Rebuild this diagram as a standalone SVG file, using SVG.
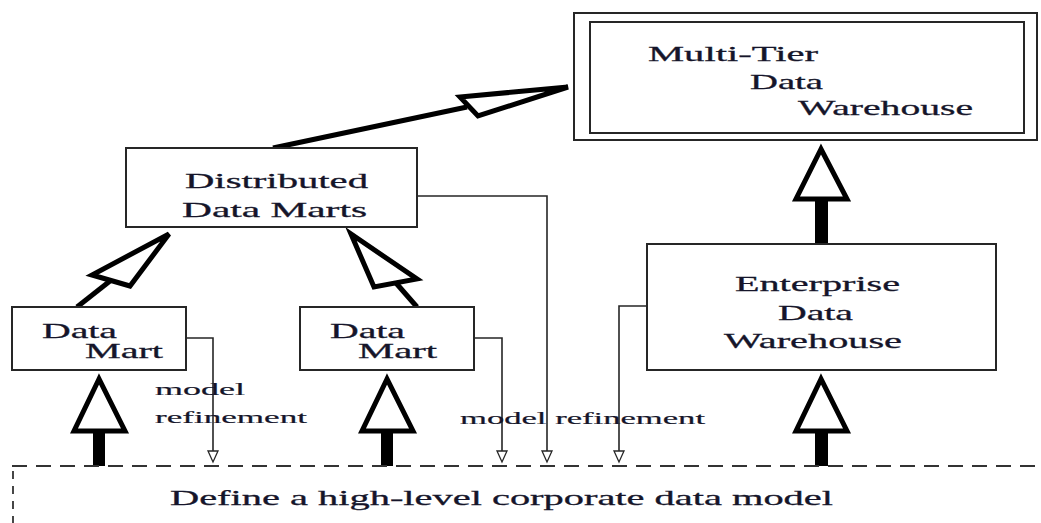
<svg xmlns="http://www.w3.org/2000/svg" width="1041" height="523" viewBox="0 0 1041 523">
<style>
.box{fill:#fff;stroke:#262626;stroke-width:2}
.t{font-family:"Liberation Serif","Times New Roman",serif;font-size:22px;fill:#15152a;stroke:#15152a;stroke-width:0.3}
.s{font-family:"Liberation Serif","Times New Roman",serif;font-size:17px;fill:#15152a;stroke:#15152a;stroke-width:0.2}
.thin{fill:none;stroke:#262626;stroke-width:1.6}
.thick{fill:none;stroke:#000;stroke-width:5}
.head{fill:#fff;stroke:#000;stroke-width:5;stroke-linejoin:miter}
.small{fill:#fff;stroke:#262626;stroke-width:1.3}
.stem{fill:#000}
</style>
<rect width="1041" height="523" fill="#fff"/>
<g id="connectors">
  <polyline class="thin" points="186,338 213,338 213,452"/>
  <polyline class="thin" points="474,338 502,338 502,452"/>
  <polyline class="thin" points="417,196 547,196 547,452"/>
  <polyline class="thin" points="647,306 619,306 619,452"/>
  <polygon class="small" points="208,451 218,451 213,462"/>
  <polygon class="small" points="497,451 507,451 502,462"/>
  <polygon class="small" points="542,451 552,451 547,462"/>
  <polygon class="small" points="614,451 624,451 619,462"/>
  <line class="thick" x1="273" y1="148" x2="467" y2="107"/>
  <polygon class="head" points="568,87 460,97 478,116"/>
  <line class="thick" x1="77" y1="307" x2="110" y2="281"/>
  <polygon class="head" points="169,234 92,275 130,286"/>
  <line class="thick" x1="417" y1="307" x2="396" y2="283"/>
  <polygon class="head" points="351,234 374,287 417,279"/>
  <rect class="stem" x="815" y="200" width="13" height="44"/>
  <polygon class="head" points="821,149 796,199 847,199"/>
  <rect class="stem" x="93" y="431" width="12" height="35"/>
  <polygon class="head" points="99,379 74,431 125,431"/>
  <rect class="stem" x="381" y="431" width="12" height="35"/>
  <polygon class="head" points="387,379 362,431 413,431"/>
  <rect class="stem" x="815" y="431" width="13" height="35"/>
  <polygon class="head" points="821,379 796,431 847,431"/>
  <text class="s" x="155" y="395" textLength="90" lengthAdjust="spacingAndGlyphs">model</text>
  <text class="s" x="155" y="423" textLength="152" lengthAdjust="spacingAndGlyphs">refinement</text>
  <text class="s" x="460" y="424" textLength="245" lengthAdjust="spacingAndGlyphs">model refinement</text>
</g>
<g id="multi-tier">
  <rect class="box" x="574" y="13" width="463" height="127"/>
  <rect class="box" x="590" y="22" width="434" height="111"/>
  <text class="t" x="648" y="61" textLength="170" lengthAdjust="spacingAndGlyphs">Multi-Tier</text>
  <text class="t" x="750" y="89" textLength="73" lengthAdjust="spacingAndGlyphs">Data</text>
  <text class="t" x="798" y="115" textLength="175" lengthAdjust="spacingAndGlyphs">Warehouse</text>
</g>
<g id="distributed">
  <rect class="box" x="126" y="148" width="291" height="79"/>
  <text class="t" x="185" y="188" textLength="183" lengthAdjust="spacingAndGlyphs">Distributed</text>
  <text class="t" x="182" y="217" textLength="185" lengthAdjust="spacingAndGlyphs">Data Marts</text>
</g>
<g id="datamart1">
  <rect class="box" x="12" y="307" width="174" height="63"/>
  <text class="t" x="42" y="338" textLength="75" lengthAdjust="spacingAndGlyphs">Data</text>
  <text class="t" x="85" y="358" textLength="78" lengthAdjust="spacingAndGlyphs">Mart</text>
</g>
<g id="datamart2">
  <rect class="box" x="300" y="307" width="174" height="63"/>
  <text class="t" x="330" y="338" textLength="75" lengthAdjust="spacingAndGlyphs">Data</text>
  <text class="t" x="358" y="358" textLength="79" lengthAdjust="spacingAndGlyphs">Mart</text>
</g>
<g id="enterprise">
  <rect class="box" x="647" y="244" width="349" height="126"/>
  <text class="t" x="735" y="291" textLength="165" lengthAdjust="spacingAndGlyphs">Enterprise</text>
  <text class="t" x="778" y="320" textLength="75" lengthAdjust="spacingAndGlyphs">Data</text>
  <text class="t" x="724" y="348" textLength="178" lengthAdjust="spacingAndGlyphs">Warehouse</text>
</g>
<g id="corporate-model">
  <line x1="12" y1="466" x2="1041" y2="466" stroke="#333" stroke-width="1.8" stroke-dasharray="15 9"/>
  <line x1="13" y1="471" x2="13" y2="523" stroke="#333" stroke-width="1.8" stroke-dasharray="8 7"/>
  <text class="t" x="170" y="505" textLength="663" lengthAdjust="spacingAndGlyphs">Define a high-level corporate data model</text>
</g>
</svg>
